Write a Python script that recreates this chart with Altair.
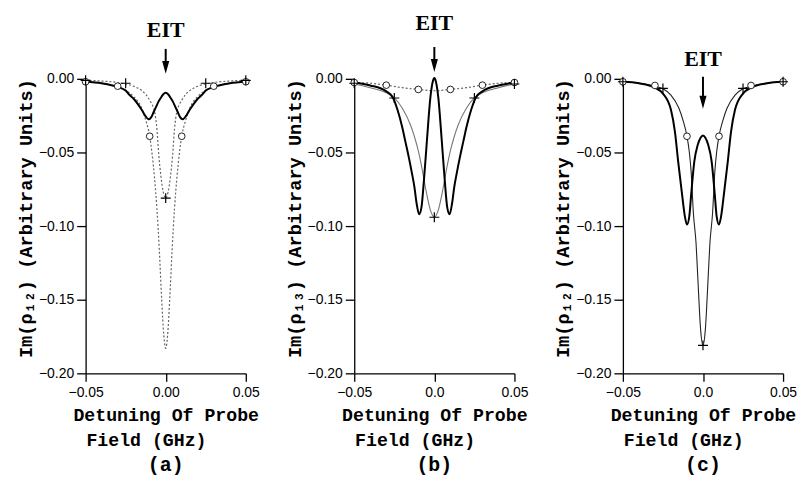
import altair as alt
import pandas as pd

# ---------------- data ----------------
# Panel (a)
a_solid_x = [-0.05, -0.04, -0.03, -0.025, -0.0225, -0.02, -0.0175, -0.015, -0.0125, -0.0105, -0.009, -0.0075, -0.006, -0.0045, -0.003, -0.0015, 0.0,
             0.0015, 0.003, 0.0045, 0.006, 0.0075, 0.009, 0.0105, 0.0125, 0.015, 0.0175, 0.02, 0.0225, 0.025, 0.03, 0.04, 0.05]
a_solid_y = [-0.002, -0.003, -0.0055, -0.008, -0.011, -0.0135, -0.017, -0.021, -0.0255, -0.0275, -0.026, -0.0225, -0.019, -0.0155, -0.0128, -0.0105, -0.0095,
             -0.0105, -0.0128, -0.0155, -0.019, -0.0225, -0.026, -0.0275, -0.0255, -0.021, -0.017, -0.0135, -0.011, -0.008, -0.0055, -0.003, -0.002]
a_circ_x = [-0.05, -0.04, -0.03, -0.025, -0.02, -0.015, -0.0125, -0.01, -0.0085, -0.007, -0.0055, -0.004, -0.0025, -0.0012, 0.0,
            0.0012, 0.0025, 0.004, 0.0055, 0.007, 0.0085, 0.01, 0.0125, 0.015, 0.02, 0.025, 0.03, 0.04, 0.05]
a_circ_y = [-0.002, -0.003, -0.0055, -0.008, -0.012, -0.020, -0.028, -0.039, -0.051, -0.067, -0.088, -0.116, -0.150, -0.174, -0.183,
            -0.174, -0.150, -0.116, -0.088, -0.067, -0.051, -0.039, -0.028, -0.020, -0.012, -0.008, -0.0055, -0.003, -0.002]
a_cross_x = [-0.05, -0.04, -0.03, -0.025, -0.02, -0.015, -0.0125, -0.01, -0.0085, -0.007, -0.0055, -0.0043, -0.003, -0.0015, 0.0,
             0.0015, 0.003, 0.0043, 0.0055, 0.007, 0.0085, 0.01, 0.0125, 0.015, 0.02, 0.025, 0.03, 0.04, 0.05]
a_cross_y = [-0.001, -0.0015, -0.0025, -0.0035, -0.005, -0.008, -0.0105, -0.0145, -0.0175, -0.022, -0.034, -0.052, -0.066, -0.077, -0.081,
             -0.077, -0.066, -0.052, -0.034, -0.022, -0.0175, -0.0145, -0.0105, -0.008, -0.005, -0.0035, -0.0025, -0.0015, -0.001]
a_mk_circ_x = [-0.05, -0.03, -0.01, 0.01, 0.03, 0.05]
a_mk_circ_y = [-0.002, -0.005, -0.039, -0.039, -0.005, -0.002]
a_mk_cross_x = [-0.05, -0.025, 0.0, 0.025, 0.05]
a_mk_cross_y = [-0.001, -0.003, -0.081, -0.003, -0.001]

# Panel (b)
b_solid_x = [-0.05, -0.04, -0.03, -0.026, -0.023, -0.02, -0.018, -0.016, -0.014, -0.0125, -0.011, -0.0095, -0.008, -0.0065, -0.0045, -0.0025, -0.001, 0.0,
             0.001, 0.0025, 0.0045, 0.0065, 0.008, 0.0095, 0.011, 0.0125, 0.014, 0.016, 0.018, 0.02, 0.023, 0.026, 0.03, 0.04, 0.05]
b_solid_y = [-0.0025, -0.0045, -0.0085, -0.0125, -0.021, -0.033, -0.043, -0.053, -0.064, -0.073, -0.085, -0.092, -0.087, -0.069, -0.040, -0.013, -0.002, 0.0005,
             -0.002, -0.013, -0.040, -0.069, -0.087, -0.092, -0.085, -0.073, -0.064, -0.053, -0.043, -0.033, -0.021, -0.0125, -0.0085, -0.0045, -0.0025]
b_circ_x = [-0.05, -0.04, -0.03, -0.02, -0.01, 0.0, 0.01, 0.02, 0.03, 0.04, 0.05]
b_circ_y = [-0.0025, -0.003, -0.0043, -0.006, -0.0072, -0.0081, -0.0072, -0.006, -0.0043, -0.003, -0.0025]
b_cross_x = [-0.05, -0.04, -0.03, -0.025, -0.02, -0.015, -0.0125, -0.01, -0.0075, -0.005, -0.0025, 0.0,
             0.0025, 0.005, 0.0075, 0.01, 0.0125, 0.015, 0.02, 0.025, 0.03, 0.04, 0.05]
b_cross_y = [-0.0035, -0.006, -0.0095, -0.013, -0.020, -0.031, -0.039, -0.049, -0.062, -0.077, -0.089, -0.094,
             -0.089, -0.077, -0.062, -0.049, -0.039, -0.031, -0.020, -0.013, -0.0095, -0.006, -0.0035]
b_mk_circ_x = [-0.05, -0.03, -0.01, 0.01, 0.03, 0.05]
b_mk_circ_y = [-0.0025, -0.0043, -0.0072, -0.0072, -0.0043, -0.0025]
b_mk_cross_x = [-0.05, -0.025, 0.0, 0.025, 0.05]
b_mk_cross_y = [-0.003, -0.013, -0.094, -0.013, -0.0035]

# Panel (c)
c_solid_x = [-0.05, -0.04, -0.03, -0.025, -0.02, -0.0175, -0.0155, -0.013, -0.0115, -0.01, -0.0085, -0.0074, -0.0054, -0.0033, -0.0015, 0.0,
             0.0015, 0.0033, 0.0054, 0.0074, 0.0085, 0.01, 0.0115, 0.013, 0.0155, 0.0175, 0.02, 0.025, 0.03, 0.04, 0.05]
c_solid_y = [-0.002, -0.003, -0.006, -0.010, -0.021, -0.036, -0.056, -0.079, -0.092, -0.099, -0.093, -0.079, -0.056, -0.045, -0.040, -0.0385,
             -0.040, -0.045, -0.056, -0.079, -0.093, -0.099, -0.092, -0.079, -0.056, -0.036, -0.021, -0.010, -0.006, -0.003, -0.002]
c_thin_x = [-0.05, -0.04, -0.03, -0.025, -0.02, -0.015, -0.0125, -0.01, -0.0085, -0.0074, -0.006, -0.0043, -0.003, -0.0015, 0.0,
            0.0015, 0.003, 0.0043, 0.006, 0.0074, 0.0085, 0.01, 0.0125, 0.015, 0.02, 0.025, 0.03, 0.04, 0.05]
c_thin_y = [-0.002, -0.003, -0.005, -0.0068, -0.011, -0.020, -0.028, -0.039, -0.050, -0.063, -0.091, -0.112, -0.140, -0.170, -0.181,
            -0.170, -0.140, -0.112, -0.091, -0.063, -0.050, -0.039, -0.028, -0.020, -0.011, -0.0068, -0.005, -0.003, -0.002]
c_mk_circ_x = [-0.05, -0.03, -0.01, 0.01, 0.03, 0.05]
c_mk_circ_y = [-0.002, -0.0045, -0.039, -0.039, -0.0045, -0.002]
c_mk_cross_x = [-0.05, -0.025, 0.0, 0.025, 0.05]
c_mk_cross_y = [-0.002, -0.0065, -0.181, -0.0065, -0.002]

# EIT annotation (x, text baseline, arrow top, arrow head centre)
eit_x = [0.0, 0.0, 0.0]
eit_text_y = [0.0284, 0.0331, 0.0088]
arrow_top_y = [0.0203, 0.0216, 0.0014]
arrow_head_y = [0.0078, 0.0091, -0.0159]

# second line of the x title ("Field (GHz)") sits left of centre in the reference
field_x = -0.012
field_y = -0.2495

x_ticks = [-0.05, 0.0, 0.05]
y_ticks = [0.0, -0.05, -0.10, -0.15, -0.20]
letters = ["(a)", "(b)", "(c)"]
y_titles = ["Im(ρ₁₂) (Arbitrary Units)", "Im(ρ₁₃) (Arbitrary Units)", "Im(ρ₁₂) (Arbitrary Units)"]
zero_labels = ["0.00", "0.0", "0.0"]

MONO = "Liberation Mono"
SANS = "Liberation Sans"
SERIF = "Liberation Serif"
H = 296
W = 161
TRI = "M-0.55,-1L0.55,-1L0,1Z"
PLUS = "M-1,0L1,0M0,-1L0,1"


def panel(i, curves, mk_circ, mk_cross):
    label_expr = "datum.value == 0 ? '%s' : format(datum.value, '.2f')" % zero_labels[i]
    X = alt.X("x:Q",
              scale=alt.Scale(domain=[-0.05, 0.05], nice=False, zero=False),
              axis=alt.Axis(values=x_ticks, labelExpr=label_expr, grid=False, labelFlush=False,
                            domainColor="black", domainWidth=1.3, tickColor="black", tickWidth=1.3,
                            tickSize=8, labelPadding=4, labelColor="black",
                            labelFont=SANS, labelFontSize=14,
                            title="Detuning Of Probe",
                            titleFont=MONO, titleFontSize=18.3, titleFontWeight="bold",
                            titleColor="black", titlePadding=7))
    Y = alt.Y("y:Q",
              scale=alt.Scale(domain=[-0.2, 0.0], nice=False, zero=False),
              axis=alt.Axis(values=y_ticks, format=".2f", grid=False, labelFlush=False,
                            domainColor="black", domainWidth=1.3, tickColor="black", tickWidth=1.3,
                            tickSize=9, labelPadding=3, labelColor="black",
                            labelFont=SANS, labelFontSize=14,
                            title=y_titles[i], titleFont=MONO, titleFontSize=18.7,
                            titleFontWeight="bold", titleColor="black", titlePadding=3,
                            titleY=140))
    layers = []
    for xs, ys, style in curves:
        df = pd.DataFrame({"x": xs, "y": ys})
        layers.append(alt.Chart(df).mark_line(interpolate="monotone", **style).encode(x=X, y=Y))
    dfc = pd.DataFrame({"x": mk_circ[0], "y": mk_circ[1]})
    layers.append(alt.Chart(dfc).mark_point(shape="circle", size=45, fill="white", stroke="#222",
                                            strokeWidth=1, opacity=1).encode(x=X, y=Y))
    dfx = pd.DataFrame({"x": mk_cross[0], "y": mk_cross[1]})
    layers.append(alt.Chart(dfx).mark_point(shape=PLUS, size=100, filled=False, stroke="black",
                                            strokeWidth=1.2, opacity=1).encode(x=X, y=Y))
    dfa = pd.DataFrame({"x": [eit_x[i]], "y": [arrow_top_y[i]], "y2": [arrow_head_y[i]]})
    layers.append(alt.Chart(dfa).mark_rule(color="black", strokeWidth=2).encode(
        x=X, y=Y, y2="y2:Q"))
    dfh = pd.DataFrame({"x": [eit_x[i]], "y": [arrow_head_y[i]]})
    layers.append(alt.Chart(dfh).mark_point(shape=TRI, size=169, filled=True, color="black",
                                            opacity=1).encode(x=X, y=Y))
    dft = pd.DataFrame({"x": [eit_x[i]], "y": [eit_text_y[i]], "t": ["EIT"]})
    layers.append(alt.Chart(dft).mark_text(font=SERIF, fontSize=22, fontWeight="bold",
                                           baseline="alphabetic", align="center",
                                           color="black").encode(x=X, y=Y, text="t:N"))
    dff = pd.DataFrame({"x": [field_x], "y": [field_y], "t": ["Field (GHz)"]})
    layers.append(alt.Chart(dff).mark_text(font=MONO, fontSize=18.3, fontWeight="bold",
                                           baseline="alphabetic", align="center",
                                           color="black").encode(x=X, y=Y, text="t:N"))
    return alt.layer(*layers).properties(
        width=W, height=H,
        title=alt.TitleParams(letters[i], orient="bottom", anchor="middle", font=MONO,
                              fontSize=20, fontWeight="bold", offset=6, color="black"))


solid = dict(color="black", strokeWidth=2)
dotted = dict(color="#666", strokeWidth=1.2, strokeDash=[2, 2])
thin_gray = dict(color="#777", strokeWidth=1.1)
thin_black = dict(color="#222", strokeWidth=1.1)

pa = panel(0, [(a_circ_x, a_circ_y, dotted), (a_cross_x, a_cross_y, dotted), (a_solid_x, a_solid_y, solid)],
           (a_mk_circ_x, a_mk_circ_y), (a_mk_cross_x, a_mk_cross_y))
pb = panel(1, [(b_circ_x, b_circ_y, dotted), (b_cross_x, b_cross_y, thin_gray), (b_solid_x, b_solid_y, solid)],
           (b_mk_circ_x, b_mk_circ_y), (b_mk_cross_x, b_mk_cross_y))
pc = panel(2, [(c_thin_x, c_thin_y, thin_black), (c_solid_x, c_solid_y, solid)],
           (c_mk_circ_x, c_mk_circ_y), (c_mk_cross_x, c_mk_cross_y))

chart = alt.hconcat(pa, pb, pc, spacing=109, bounds="flush").properties(
    padding={"left": 8, "top": 3, "right": 0, "bottom": 0},
    background="white",
).configure_view(stroke=None)

chart.save("out.html", embed_options={"renderer": "svg", "actions": False})
